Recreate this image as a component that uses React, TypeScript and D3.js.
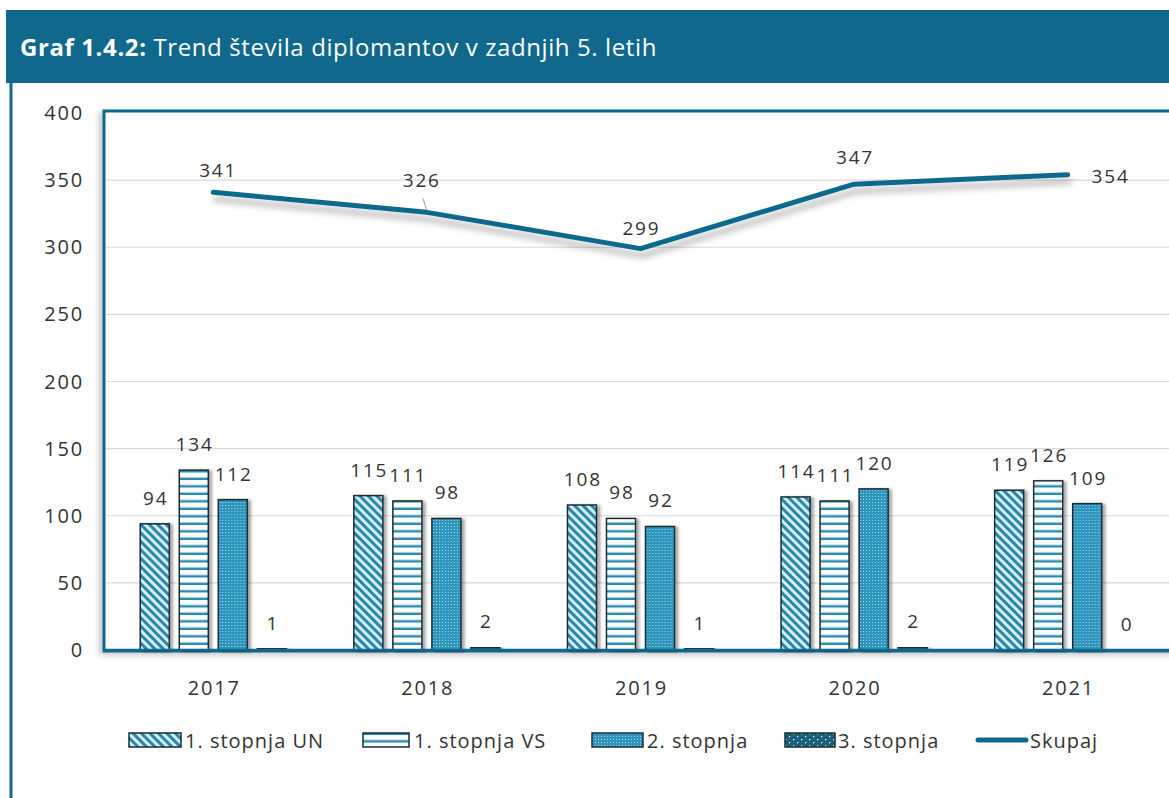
import React from "react";
import * as d3 from "d3";

const years = ["2017", "2018", "2019", "2020", "2021"];
const seriesNames = ["1. stopnja UN", "1. stopnja VS", "2. stopnja", "3. stopnja"];
const un = [94, 115, 108, 114, 119];
const vs = [134, 111, 98, 111, 126];
const st2 = [112, 98, 92, 120, 109];
const st3 = [1, 2, 1, 2, 0];
const skupaj = [341, 326, 299, 347, 354];
const lineName = "Skupaj";
const yTicks = [0, 50, 100, 150, 200, 250, 300, 350, 400];
const titleBold = "Graf 1.4.2:";
const titleRest = " Trend števila diplomantov v zadnjih 5. letih";

// layout constants (label nudges, not data)
const lineLabelOffsets = [
  [4, -15],
  [-6, -25],
  [0, -14],
  [0, -20],
  [42, 8],
];

const TEAL = "#10698c";
const FONT = "'Open Sans', Lato, sans-serif";
const TXT = "#333333";
const NUM_LS = 1.8;

export default function App() {
  const W = 1169;
  const H = 798;
  const y = d3.scaleLinear().domain([0, 400]).range([650, 113]);
  const x0 = d3
    .scaleBand<string>()
    .domain(years)
    .range([106.5, 1174.5])
    .paddingInner(0.316)
    .paddingOuter(0.158);
  const x1 = d3
    .scaleBand<string>()
    .domain(seriesNames)
    .range([0, x0.bandwidth()])
    .paddingInner(0.256);
  const values = [un, vs, st2, st3];
  const fills = ["url(#pUN)", "url(#pVS)", "url(#p2)", "url(#p3)"];
  const cx = (i: number) => (x0(years[i]) as number) + x0.bandwidth() / 2;
  const line = d3
    .line<number>()
    .x((_, i) => cx(i))
    .y((d) => y(d));

  const legendItems = [
    { sx: 129, sw: 52, tx: 185, kind: 0 },
    { sx: 363, sw: 46, tx: 414, kind: 1 },
    { sx: 592, sw: 51, tx: 647, kind: 2 },
    { sx: 785, sw: 50, tx: 838, kind: 3 },
  ];

  return (
    <svg
      width={W}
      height={H}
      style={{ position: "absolute", left: 0, top: 0, background: "#fff" }}
      fontFamily={FONT}
    >
      <defs>
        <pattern id="pUN" patternUnits="userSpaceOnUse" width={6} height={6} patternTransform="rotate(-45)">
          <rect width={6} height={6} fill="#d3f0f8" />
          <rect width={3} height={6} fill="#2a86aa" />
        </pattern>
        <pattern id="pVS" patternUnits="userSpaceOnUse" width={8} height={7.5}>
          <rect width={8} height={7.5} fill="#ffffff" />
          <rect y={5} width={8} height={2.5} fill="#2b8aae" />
          <rect y={4.4} width={8} height={0.6} fill="#bfe6f3" />
        </pattern>
        <pattern id="p2" patternUnits="userSpaceOnUse" width={3} height={3}>
          <rect width={3} height={3} fill="#2f95bd" />
          <rect x={1} y={1} width={1} height={1} fill="#9ad6ec" />
        </pattern>
        <pattern id="p3" patternUnits="userSpaceOnUse" width={8} height={6}>
          <rect width={8} height={6} fill="#1b5e7a" />
          <rect x={1} y={1} width={1.3} height={1.3} fill="#d8f2fb" />
          <rect x={5} y={4} width={1.3} height={1.3} fill="#d8f2fb" />
        </pattern>
        <filter id="shadow" x="-20%" y="-20%" width="140%" height="160%">
          <feDropShadow dx={2} dy={7} stdDeviation={3} floodColor="#000" floodOpacity={0.28} />
        </filter>
        <filter id="barShadow" x="-30%" y="-10%" width="160%" height="120%">
          <feDropShadow dx={3} dy={1} stdDeviation={1.5} floodColor="#000" floodOpacity={0.35} />
        </filter>
        <filter id="frameShadow" x="-5%" y="-5%" width="110%" height="110%">
          <feDropShadow dx={-3} dy={2} stdDeviation={3} floodColor="#000" floodOpacity={0.25} />
        </filter>
      </defs>

      {/* header band */}
      <rect x={6} y={10} width={W} height={73} fill={TEAL} />
      <text x={20} y={56} fill="#ffffff" fontSize={24} letterSpacing={0.6}>
        <tspan fontWeight="bold">{titleBold}</tspan>
        <tspan>{titleRest}</tspan>
      </text>
      {/* outer frame left border */}
      <line x1={11} x2={11} y1={83} y2={H} stroke={TEAL} strokeWidth={3} />

      {/* plot frame */}
      <rect
        x={104}
        y={111}
        width={W}
        height={540}
        fill="#ffffff"
        stroke={TEAL}
        strokeWidth={3}
        filter="url(#frameShadow)"
      />

      {/* gridlines */}
      {yTicks
        .filter((t) => t > 0 && t < 400)
        .map((t) => (
          <line key={t} x1={106} x2={W} y1={y(t)} y2={y(t)} stroke="#d9d9d9" strokeWidth={1.2} />
        ))}

      {/* y tick labels */}
      {yTicks.map((t) => (
        <text key={t} x={84} y={y(t) + 7} textAnchor="end" fontSize={20} letterSpacing={NUM_LS} fill={TXT}>
          {t}
        </text>
      ))}

      {/* bars */}
      {years.map((yr, i) => (
        <g key={yr} transform={`translate(${x0(yr)},0)`}>
          {seriesNames.map((s, k) => {
            const v = values[k][i];
            const bx = x1(s) as number;
            const top = y(v);
            return (
              <g key={s}>
                {v > 0 && (
                  <rect
                    x={bx}
                    y={top}
                    width={x1.bandwidth()}
                    height={y(0) - top}
                    fill={fills[k]}
                    stroke="#1a2c34"
                    strokeWidth={1.5}
                    filter="url(#barShadow)"
                  />
                )}
                <text
                  x={bx + x1.bandwidth() / 2 + NUM_LS / 2}
                  y={top - 19}
                  textAnchor="middle"
                  fontSize={19}
                  letterSpacing={NUM_LS}
                  fill={TXT}
                >
                  {v}
                </text>
              </g>
            );
          })}
        </g>
      ))}

      {/* zero axis line */}
      <line x1={104} x2={W} y1={y(0)} y2={y(0)} stroke={TEAL} strokeWidth={2.5} />

      {/* x labels */}
      {years.map((yr, i) => (
        <text
          key={yr}
          x={cx(i) + NUM_LS / 2}
          y={695}
          textAnchor="middle"
          fontSize={20}
          letterSpacing={NUM_LS}
          fill={TXT}
        >
          {yr}
        </text>
      ))}

      {/* total line */}
      <path
        d={line(skupaj) || ""}
        fill="none"
        stroke={TEAL}
        strokeWidth={5}
        strokeLinejoin="round"
        strokeLinecap="round"
        filter="url(#shadow)"
      />
      {/* leader line for 2018 label */}
      <line x1={cx(1) - 4} y1={y(skupaj[1]) - 14} x2={cx(1)} y2={y(skupaj[1]) - 2} stroke="#9a9a9a" strokeWidth={1} />
      {skupaj.map((v, i) => (
        <text
          key={i}
          x={cx(i) + lineLabelOffsets[i][0] + NUM_LS / 2}
          y={y(v) + lineLabelOffsets[i][1]}
          textAnchor="middle"
          fontSize={19}
          letterSpacing={NUM_LS}
          fill={TXT}
        >
          {v}
        </text>
      ))}

      {/* legend */}
      {legendItems.map((it) => (
        <g key={it.kind}>
          <rect
            x={it.sx}
            y={733}
            width={it.sw}
            height={14}
            fill={fills[it.kind]}
            stroke="#1a2c34"
            strokeWidth={1.5}
          />
          <text x={it.tx} y={748} fontSize={20} letterSpacing={1} fill={TXT}>
            {seriesNames[it.kind]}
          </text>
        </g>
      ))}
      <line x1={978} x2={1026} y1={740} y2={740} stroke={TEAL} strokeWidth={5} strokeLinecap="round" />
      <text x={1030} y={748} fontSize={20} letterSpacing={1} fill={TXT}>
        {lineName}
      </text>
    </svg>
  );
}
